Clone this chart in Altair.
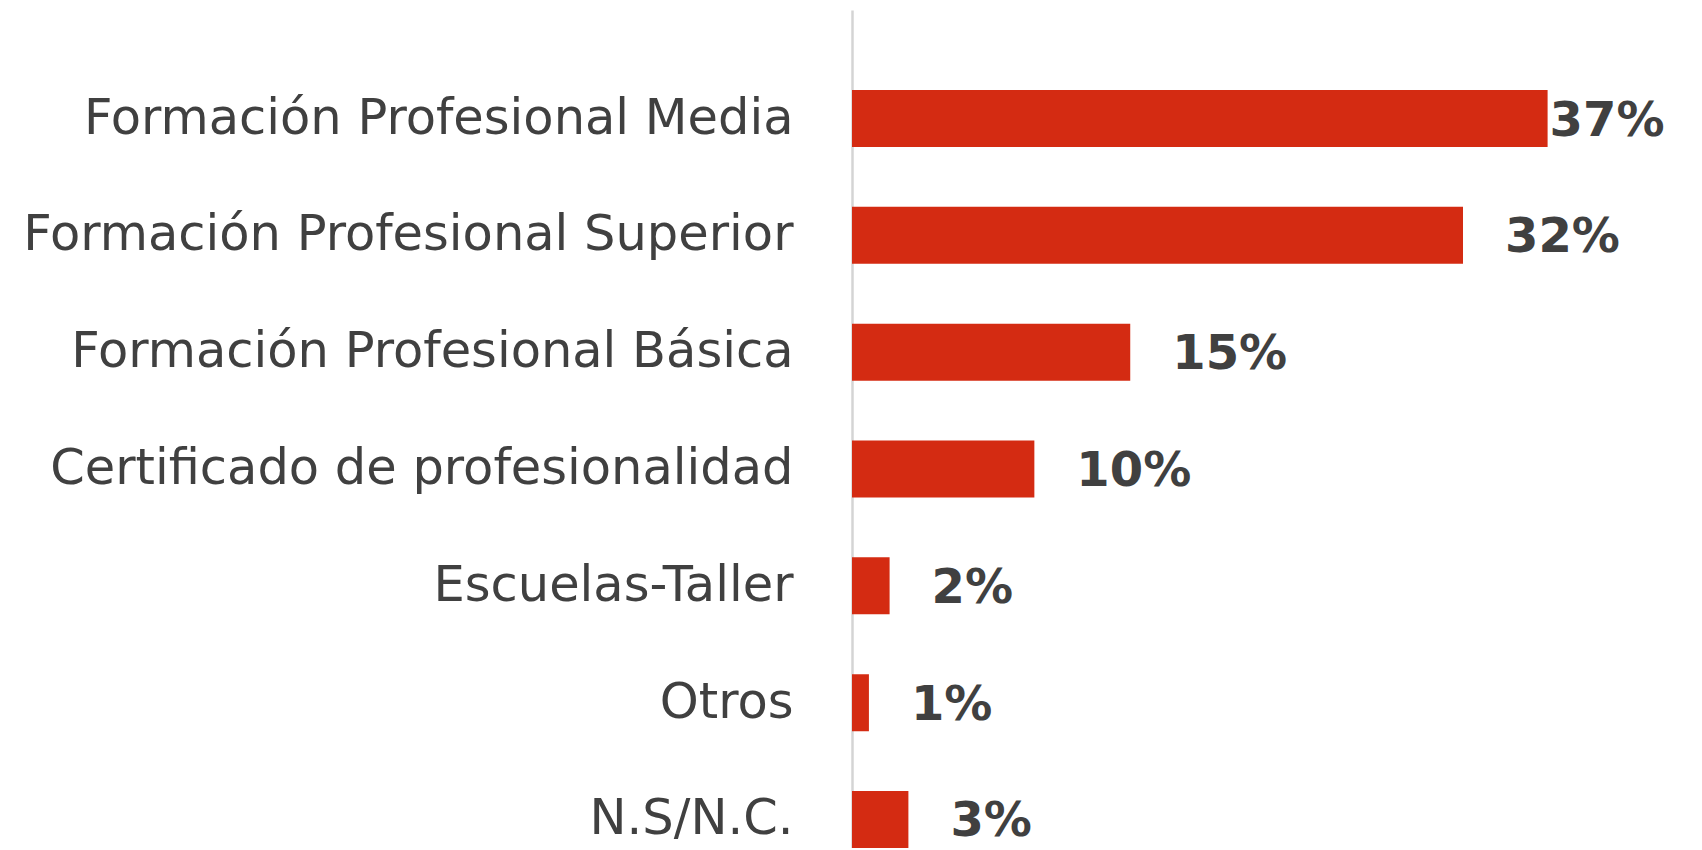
import altair as alt
import pandas as pd

categories = [
    "Formación Profesional Media",
    "Formación Profesional Superior",
    "Formación Profesional Básica",
    "Certificado de profesionalidad",
    "Escuelas-Taller",
    "Otros",
    "N.S/N.C.",
]
values = [37.0, 32.5, 14.8, 9.7, 2.0, 0.9, 3.0]
labels = ["37%", "32%", "15%", "10%", "2%", "1%", "3%"]

df = pd.DataFrame({"cat": categories, "value": values, "label": labels})

BAR = "#D42B12"
TXT = "#404040"

y = alt.Y(
    "cat:N",
    sort=categories,
    title=None,
    scale=alt.Scale(paddingInner=0.512, paddingOuter=0.3425, align=1),
    axis=alt.Axis(
        ticks=False,
        grid=False,
        domainColor="#d4d4d4",
        domainWidth=2.5,
        labelFont="DejaVu Sans",
        labelFontSize=49.5,
        labelColor=TXT,
        labelPadding=59,
        labelLimit=900,
        labelBaseline="middle",
    ),
)
x = alt.X(
    "value:Q",
    title=None,
    scale=alt.Scale(domain=[0, 40], nice=False),
    axis=None,
)

base = alt.Chart(df)

bars = base.mark_bar(color=BAR).encode(x=x, y=y)

text_main = base.transform_filter("datum.value < 35").mark_text(
    align="left", baseline="middle", dx=42, dy=3,
    font="DejaVu Sans", fontWeight="bold", fontSize=48, color=TXT,
).encode(x=x, y=y, text="label:N")

text_top = base.transform_filter("datum.value >= 35").mark_text(
    align="left", baseline="middle", dx=2, dy=3,
    font="DejaVu Sans", fontWeight="bold", fontSize=48, color=TXT,
).encode(x=x, y=y, text="label:N")

chart = (
    alt.layer(bars, text_main, text_top)
    .properties(
        width=752,
        height=838,
        background="white",
        autosize=alt.AutoSizeParams(type="none"),
        padding={"left": 844, "top": 2, "right": 70, "bottom": 0},
    )
    .configure_view(strokeWidth=0, stroke=None)
)

chart.save("out.html", embed_options={"renderer": "svg", "actions": False})
